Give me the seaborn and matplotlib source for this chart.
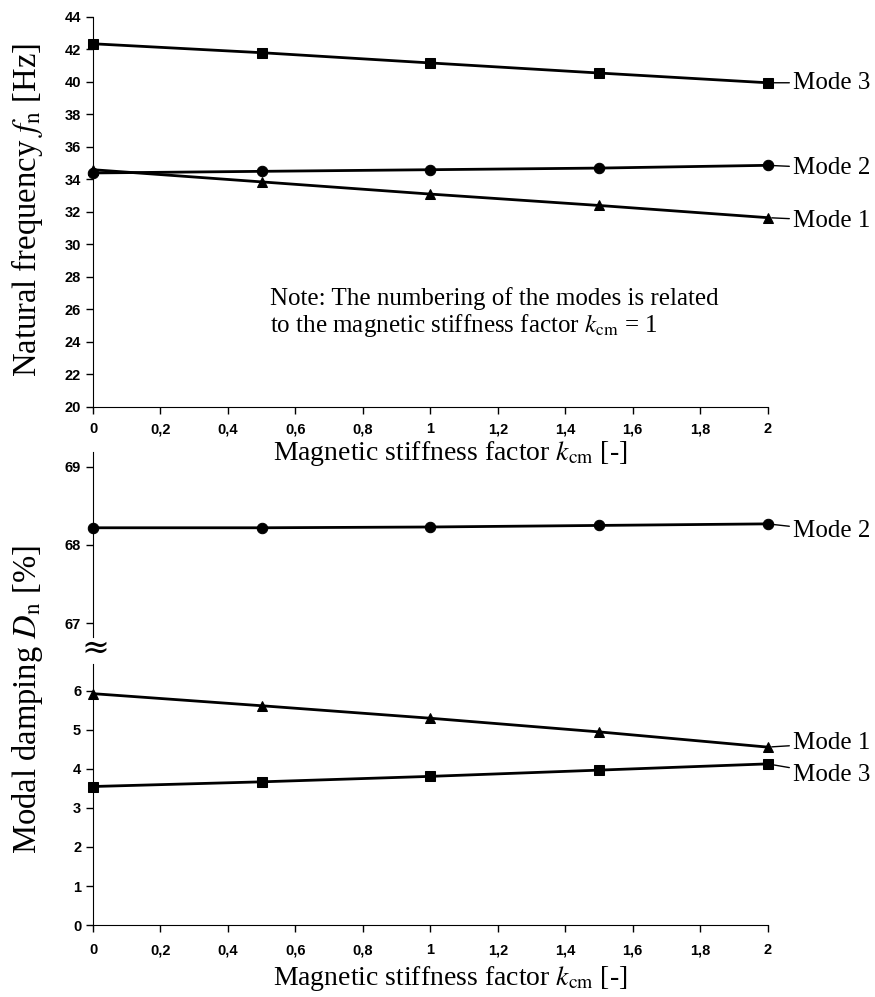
import seaborn as sns
import matplotlib.pyplot as plt
from matplotlib.ticker import FuncFormatter

# magnetic stiffness factor
k_cm = [0, 0.5, 1, 1.5, 2]

# natural frequencies [Hz]
freq_mode1 = [34.6, 33.85, 33.1, 32.4, 31.65]
freq_mode2 = [34.4, 34.5, 34.6, 34.7, 34.87]
freq_mode3 = [42.35, 41.8, 41.17, 40.55, 39.95]

# modal damping [%]
damp_mode1 = [5.93, 5.62, 5.3, 4.95, 4.56]
damp_mode2 = [68.22, 68.22, 68.23, 68.25, 68.27]
damp_mode3 = [3.55, 3.67, 3.81, 3.97, 4.13]

sns.set_style("ticks")
plt.rcParams['font.family'] = ['Liberation Serif', 'DejaVu Serif']
plt.rcParams['mathtext.fontset'] = 'stix'
plt.rcParams.update({'text.color': 'black', 'axes.labelcolor': 'black',
                     'xtick.color': 'black', 'ytick.color': 'black'})

fig = plt.figure(figsize=(8.75, 9.97), dpi=100)
ax_f = fig.add_axes([0.1063, 0.5918, 0.771, 0.3912])
ax_hi = fig.add_axes([0.1063, 0.361, 0.771, 0.1856])
ax_lo = fig.add_axes([0.1063, 0.0722, 0.771, 0.2618])

comma = FuncFormatter(lambda v, p: ('%g' % v).replace('.', ','))


def draw(ax, y, m, ms=7.5):
    sns.lineplot(x=k_cm, y=y, ax=ax, color='black', marker=m, markersize=ms,
                 markeredgecolor='black', linewidth=2, clip_on=False)


draw(ax_f, freq_mode3, 's')
draw(ax_f, freq_mode2, 'o')
draw(ax_f, freq_mode1, '^', 7)
draw(ax_hi, damp_mode2, 'o')
draw(ax_lo, damp_mode1, '^', 7)
draw(ax_lo, damp_mode3, 's')

for ax in (ax_f, ax_hi, ax_lo):
    ax.set_xlim(0, 2)
    sns.despine(ax=ax)
    ax.tick_params(labelsize=10.5, length=5, width=1, color='black',
                   labelcolor='black')
    ax.spines['left'].set_color('black')
    ax.spines['bottom'].set_color('black')
    ax.patch.set_alpha(0)

xlabel = r'Magnetic stiffness factor $k_{\mathrm{cm}}$ [-]'

ax_f.set_ylim(20, 44)
ax_f.set_yticks(range(20, 45, 2))
ax_f.set_xticks([i / 5 for i in range(11)])
ax_f.xaxis.set_major_formatter(comma)
ax_f.tick_params(axis='x', pad=6)
ax_f.set_xlabel(xlabel, fontsize=20, labelpad=2)
ax_f.xaxis.label.set_x(0.53)

ax_hi.set_ylim(66.82, 69.19)
ax_hi.set_yticks([67, 68, 69])
ax_hi.spines['bottom'].set_visible(False)
ax_hi.tick_params(axis='x', bottom=False, labelbottom=False)

ax_lo.set_ylim(0, 6.69)
ax_lo.set_yticks(range(0, 7))
ax_lo.set_xticks([i / 5 for i in range(11)])
ax_lo.xaxis.set_major_formatter(comma)
ax_lo.tick_params(axis='x', pad=8)
ax_lo.set_xlabel(xlabel, fontsize=20, labelpad=5)
ax_lo.xaxis.label.set_x(0.53)

for ax in (ax_f, ax_hi, ax_lo):
    for lab in ax.get_xticklabels() + ax.get_yticklabels():
        lab.set_family('Liberation Sans')
        lab.set_weight('bold')

fig.text(0.031, 0.789, r'Natural frequency $f_{\mathrm{n}}$ [Hz]', fontsize=23.5,
         rotation=90, ha='center', va='center')
fig.text(0.031, 0.298, r'Modal damping $D_{\mathrm{n}}$ [%]', fontsize=23.5,
         rotation=90, ha='center', va='center')
fig.text(0.1086, 0.349, '≈', fontsize=24, ha='center', va='center',
         family='DejaVu Serif')

ax_f.text(0.524, 27.4, 'Note: The numbering of the modes is related\n'
          r'to the magnetic stiffness factor $k_{\mathrm{cm}}$ = 1',
          fontsize=18, ha='left', va='top', linespacing=1.1)


def label(ax, y, dy, text):
    ax.annotate(text, xy=(2, y), xytext=(2.074, y + dy), fontsize=18,
                va='center', ha='left',
                arrowprops=dict(arrowstyle='-', color='black', lw=1,
                                shrinkA=0, shrinkB=3),
                annotation_clip=False)


label(ax_f, freq_mode3[-1], 0.0, 'Mode 3')
label(ax_f, freq_mode2[-1], -0.18, 'Mode 2')
label(ax_f, freq_mode1[-1], -0.18, 'Mode 1')
label(ax_hi, damp_mode2[-1], -0.09, 'Mode 2')
label(ax_lo, damp_mode1[-1], 0.1, 'Mode 1')
label(ax_lo, damp_mode3[-1], -0.28, 'Mode 3')

fig.savefig('out.png', dpi=100)
